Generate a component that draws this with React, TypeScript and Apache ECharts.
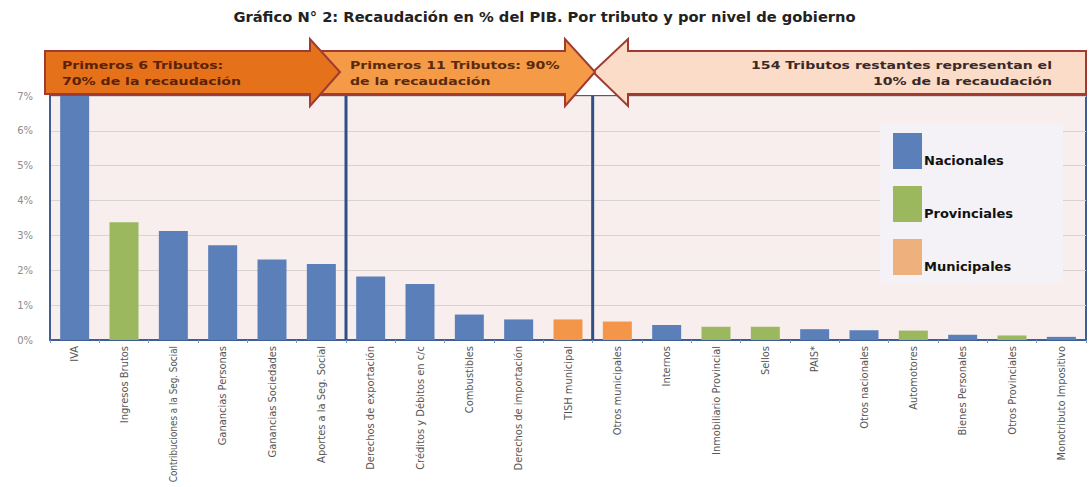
import React, { useEffect, useRef } from "react";
import * as echarts from "echarts";

const TITLE = "Gráfico N° 2: Recaudación en % del PIB. Por tributo y por nivel de gobierno";

const categories = [
  "IVA",
  "Ingresos Brutos",
  "Contribuciones a la Seg. Social",
  "Ganancias Personas",
  "Ganancias Sociedades",
  "Aportes a la Seg. Social",
  "Derechos de exportación",
  "Créditos y Débitos en c/c",
  "Combustibles",
  "Derechos de importación",
  "TISH municipal",
  "Otros municipales",
  "Internos",
  "Inmobiliario Provincial",
  "Sellos",
  "PAIS*",
  "Otros nacionales",
  "Automotores",
  "Bienes Personales",
  "Otros Provinciales",
  "Monotributo Impositivo",
];

const nacionales = [7.0, null, 3.13, 2.72, 2.31, 2.18, 1.82, 1.61, 0.73, 0.59, null, null, 0.43, null, null, 0.31, 0.28, null, 0.15, null, 0.09];
const provinciales = [null, 3.38, null, null, null, null, null, null, null, null, null, null, null, 0.38, 0.38, null, null, 0.27, null, 0.13, null];
const municipales = [null, null, null, null, null, null, null, null, null, null, 0.59, 0.53, null, null, null, null, null, null, null, null, null];

const seriesNames = ["Nacionales", "Provinciales", "Municipales"];
const seriesColors = ["#5a7fb9", "#9bb85f", "#f4964a"];
const legendColors = ["#5a7fb9", "#9bb85f", "#eeb07c"];

const yTicks = [0, 1, 2, 3, 4, 5, 6, 7];
const groupEnds = [5, 10]; // last index of first 6 and first 11

const arrowTexts = [
  ["Primeros 6 Tributos:", "70% de la recaudación"],
  ["Primeros 11 Tributos: 90%", "de la recaudación"],
  ["154 Tributos restantes representan el", "10% de la recaudación"],
];

export default function App() {
  const ref = useRef<HTMLDivElement>(null);
  useEffect(() => {
    document.body.style.margin = "0";
    const chart = echarts.init(ref.current!, undefined, { renderer: "svg" });
    const arrowFont = "bold 11px 'DejaVu Sans', Verdana, sans-serif";
    const border = "#a03b32";
    const labelFont = "'Liberation Sans Narrow', 'DejaVu Sans Condensed', sans-serif";
    const option: any = {
      animation: false,
      backgroundColor: "#ffffff",
      title: {
        text: TITLE,
        left: "center",
        top: 4,
        textStyle: { fontFamily: "'DejaVu Sans', sans-serif", fontWeight: "bold", fontSize: 14.7, color: "#222" },
      },
      grid: {
        left: 50,
        right: 3,
        top: 96,
        bottom: 147,
        show: true,
        backgroundColor: "#f9eeee",
        borderColor: "#3e5f95",
        borderWidth: 2,
        containLabel: false,
        outerBoundsMode: "none",
      },
      legend: {
        orient: "vertical",
        left: 880,
        top: 123,
        data: seriesNames.map((n, i) => ({ name: n, itemStyle: { color: legendColors[i] } })),
        icon: "rect",
        itemWidth: 29,
        itemHeight: 36,
        itemGap: 17,
        padding: [10, 50, 9, 13],
        backgroundColor: "#f4f2f6",
        selectedMode: false,
        formatter: (name: string) => "\n" + name,
        textStyle: {
          fontFamily: "'DejaVu Sans', Verdana, sans-serif",
          fontWeight: "bold",
          fontSize: 13,
          lineHeight: 18,
          color: "#111",
          padding: [0, 0, 0, -3],
        },
      },
      xAxis: {
        type: "category",
        data: categories,
        axisLine: { lineStyle: { color: "#3e5f95", width: 2 } },
        axisTick: { show: true, length: 3, lineStyle: { color: "#7f97c0" } },
        axisLabel: {
          interval: 0,
          rotate: 90,
          margin: 6,
          fontFamily: labelFont,
          fontSize: 11,
          color: "#555",
          formatter: (v: string) => (v.length > 28 ? "{s|" + v + "}" : v),
          rich: { s: { fontSize: 9.8, fontFamily: labelFont, color: "#555" } },
        },
      },
      yAxis: {
        type: "value",
        min: yTicks[0],
        max: yTicks[yTicks.length - 1],
        interval: 1,
        axisLine: { show: true, lineStyle: { color: "#3e5f95", width: 2 } },
        axisTick: { show: false },
        axisLabel: {
          formatter: "{value}%",
          margin: 17,
          fontSize: 10,
          color: "#8d8d8d",
          fontFamily: "'DejaVu Sans', sans-serif",
        },
        splitLine: { lineStyle: { color: "#d8d2d2", width: 1 } },
      },
      series: [nacionales, provinciales, municipales].map((d, i) => ({
        name: seriesNames[i],
        type: "bar",
        stack: "total",
        data: d,
        barWidth: 29,
        itemStyle: { color: seriesColors[i] },
        z: 3,
      })),
    };
    chart.setOption(option);

    const seps = groupEnds.map((idx) => {
      const a = chart.convertToPixel({ xAxisIndex: 0 }, idx) as number;
      const b = chart.convertToPixel({ xAxisIndex: 0 }, idx + 1) as number;
      return (a + b) / 2;
    });
    const y0 = chart.convertToPixel({ yAxisIndex: 0 }, 0) as number;
    const yTop = chart.convertToPixel({ yAxisIndex: 0 }, 7) as number;

    const arrow = (pts: number[][], fill: string, id: string) => ({
      type: "polygon",
      id,
      shape: { points: pts },
      style: { fill, stroke: border, lineWidth: 2 },
      z: 20,
    });
    const sx = 1.28;

    const graphic: any[] = [
      ...seps.map((x, i) => ({
        type: "line",
        id: "sep" + i,
        shape: { x1: x, y1: yTop, x2: x, y2: y0 },
        style: { stroke: "#2f4f85", lineWidth: 3 },
        z: 10,
      })),
      arrow([[628, 39], [628, 51], [1086, 51], [1086, 94], [628, 94], [628, 106], [593, 72]], "#fbdcc9", "a3"),
      arrow([[320, 51], [565, 51], [565, 39], [595, 72], [565, 106], [565, 94], [320, 94]], "#f59b47", "a2"),
      arrow([[45, 51], [310, 51], [310, 39], [340, 72], [310, 106], [310, 94], [45, 94]], "#e6711b", "a1"),
      {
        type: "text", id: "t1", x: 62, y: 57, z: 30, scaleX: sx,
        style: { text: arrowTexts[0].join("\n"), font: arrowFont, fill: "#5a2207", lineHeight: 16 },
      },
      {
        type: "text", id: "t2", x: 350, y: 57, z: 30, scaleX: sx,
        style: { text: arrowTexts[1].join("\n"), font: arrowFont, fill: "#5a2a0d", lineHeight: 16 },
      },
      {
        type: "text", id: "t3", x: 1052, y: 57, z: 30, scaleX: sx,
        style: { text: arrowTexts[2].join("\n"), font: arrowFont, fill: "#3b2926", lineHeight: 16, align: "right" },
      },
    ];
    chart.setOption({ graphic });
    return () => chart.dispose();
  }, []);
  return <div ref={ref} style={{ width: 1089, height: 487 }} />;
}
